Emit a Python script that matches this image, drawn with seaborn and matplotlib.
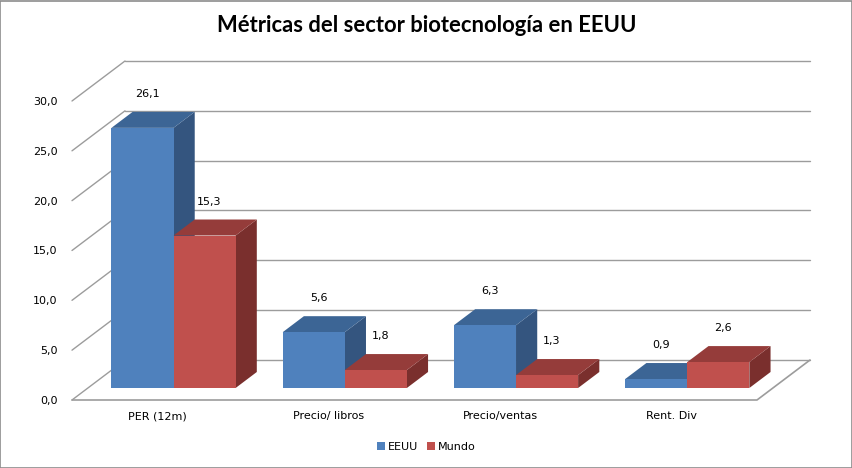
import matplotlib
matplotlib.use("Agg")
import matplotlib.pyplot as plt
from matplotlib.patches import Polygon, Rectangle
from matplotlib.lines import Line2D
import seaborn as sns
import pandas as pd

# ---------------- data ----------------
categories = ["PER (12m)", "Precio/ libros", "Precio/ventas", "Rent. Div"]
series_names = ["EEUU", "Mundo"]
eeuu = [26.1, 5.6, 6.3, 0.9]
mundo = [15.3, 1.8, 1.3, 2.6]
yticks = [0, 5, 10, 15, 20, 25, 30]
title = "Métricas del sector biotecnología en EEUU"

df = pd.DataFrame({
    "cat": categories * 2,
    "serie": [series_names[0]] * len(categories) + [series_names[1]] * len(categories),
    "val": eeuu + mundo,
})

# ---------------- style ----------------
sns.set_style("white")
plt.rcParams["font.family"] = ["DejaVu Sans"]
plt.rcParams["text.color"] = "black"
plt.rcParams["xtick.color"] = "black"
plt.rcParams["ytick.color"] = "black"

front_cols = {"EEUU": "#4F81BD", "Mundo": "#C0504D"}
top_cols = {"EEUU": "#3C6595", "Mundo": "#953C3A"}
side_cols = {"EEUU": "#34557F", "Mundo": "#7A2F2D"}
grid_col = "#9C9C9C"

W, H = 853, 468
fig = plt.figure(figsize=(W / 100, H / 100), dpi=100)

# projection geometry (in data units)
px_x = 171.25          # pixels per category unit
px_y = 9.967           # pixels per value unit
DX = 53 / px_x         # full floor depth, x component
DY = 40 / px_y         # full floor depth, y component
D_FRONT = 0.3          # depth of bar front faces
D_BAR = 0.4            # depth of bars
ytop = 34.2
x0lim, x1lim = -0.5, len(categories) - 0.5 + DX

left_px, floor_px = 72, 400
ax = fig.add_axes([left_px / W, (H - floor_px) / H,
                   (x1lim - x0lim) * px_x / W, ytop * px_y / H])

sns.barplot(data=df, x="cat", y="val", hue="serie", hue_order=series_names,
            palette=[front_cols[s] for s in series_names], width=0.725,
            saturation=1, errorbar=None, legend=False, ax=ax,
            bottom=D_FRONT * DY, linewidth=0)

ax.set_xlim(x0lim, x1lim)
ax.set_ylim(0, ytop)

# back wall gridlines, left wall lines, floor
for t in yticks:
    ax.add_line(Line2D([-0.5 + DX, len(categories) - 0.5 + DX], [t + DY, t + DY],
                       color=grid_col, lw=1, zorder=1, clip_on=False))
    ax.add_line(Line2D([-0.5, -0.5 + DX], [t, t + DY],
                       color=grid_col, lw=1, zorder=1, clip_on=False))
ax.add_line(Line2D([-0.5, len(categories) - 0.5, len(categories) - 0.5 + DX],
                   [0, 0, DY], color=grid_col, lw=1.2, zorder=1, clip_on=False))

# 3D faces for each bar
bars = sorted(ax.patches, key=lambda p: p.get_x())
colmap = {}
for p in ax.patches:
    fc = matplotlib.colors.to_hex(p.get_facecolor())
    colmap[id(p)] = "EEUU" if fc.lower() == front_cols["EEUU"].lower() else "Mundo"

ddx, ddy = D_BAR * DX, D_BAR * DY
for i, p in enumerate(bars):
    p.set_x(p.get_x() + D_FRONT * DX)
    s = colmap[id(p)]
    x0, w = p.get_x(), p.get_width()
    y0, h = p.get_y(), p.get_height()
    y1 = y0 + h
    z = 3 + i * 0.01
    side = Polygon([(x0 + w, y0), (x0 + w + ddx, y0 + ddy),
                    (x0 + w + ddx, y1 + ddy), (x0 + w, y1)],
                   closed=True, facecolor=side_cols[s], edgecolor="none", zorder=z)
    top = Polygon([(x0, y1), (x0 + w, y1), (x0 + w + ddx, y1 + ddy), (x0 + ddx, y1 + ddy)],
                  closed=True, facecolor=top_cols[s], edgecolor="none", zorder=z + 0.001)
    ax.add_patch(side)
    ax.add_patch(top)
    p.set_zorder(z + 0.002)
    ax.annotate(f"{h:.1f}".replace(".", ","), xy=(x0 + w / 2, y1),
                xytext=(5, 34), textcoords="offset pixels",
                ha="center", va="center", fontsize=8, color="black",
                zorder=10, annotation_clip=False)

# axes ticks
ax.set_yticks(yticks)
ax.set_yticklabels([f"{t:.1f}".replace(".", ",") for t in yticks])
ax.set_xticks(range(len(categories)))
ax.set_xticklabels(categories)
ax.tick_params(axis="y", length=0, pad=10.5, labelsize=8, labelcolor="black")
ax.tick_params(axis="x", length=0, pad=8, labelsize=8, labelcolor="black")
ax.set_xlabel("")
ax.set_ylabel("")
for sp in ax.spines.values():
    sp.set_visible(False)
ax.patch.set_alpha(0)

# title
fig.text(0.5, 1 - 32 / H, title, ha="center", va="baseline", color="black",
         fontsize=15.8, fontweight="bold", family=["Lato", "DejaVu Sans"])

# legend
handles = [Rectangle((0, 0), 1, 1, facecolor=front_cols[s], edgecolor="none")
           for s in series_names]
leg = fig.legend(handles, series_names, loc="center", bbox_to_anchor=(0.5, 1 - 447 / H),
                 ncol=2, frameon=False, fontsize=8, handlelength=0.7, handleheight=0.7,
                 handletextpad=0.3, columnspacing=0.8)
for t in leg.get_texts():
    t.set_color("black")

# chart border
fig.patches.append(Rectangle((0.5 / W, 0.5 / H), 1 - 1.5 / W, 1 - 1.5 / H,
                             transform=fig.transFigure, fill=False,
                             edgecolor="#8C8C8C", lw=1.2))

fig.savefig("out.png", dpi=100)
